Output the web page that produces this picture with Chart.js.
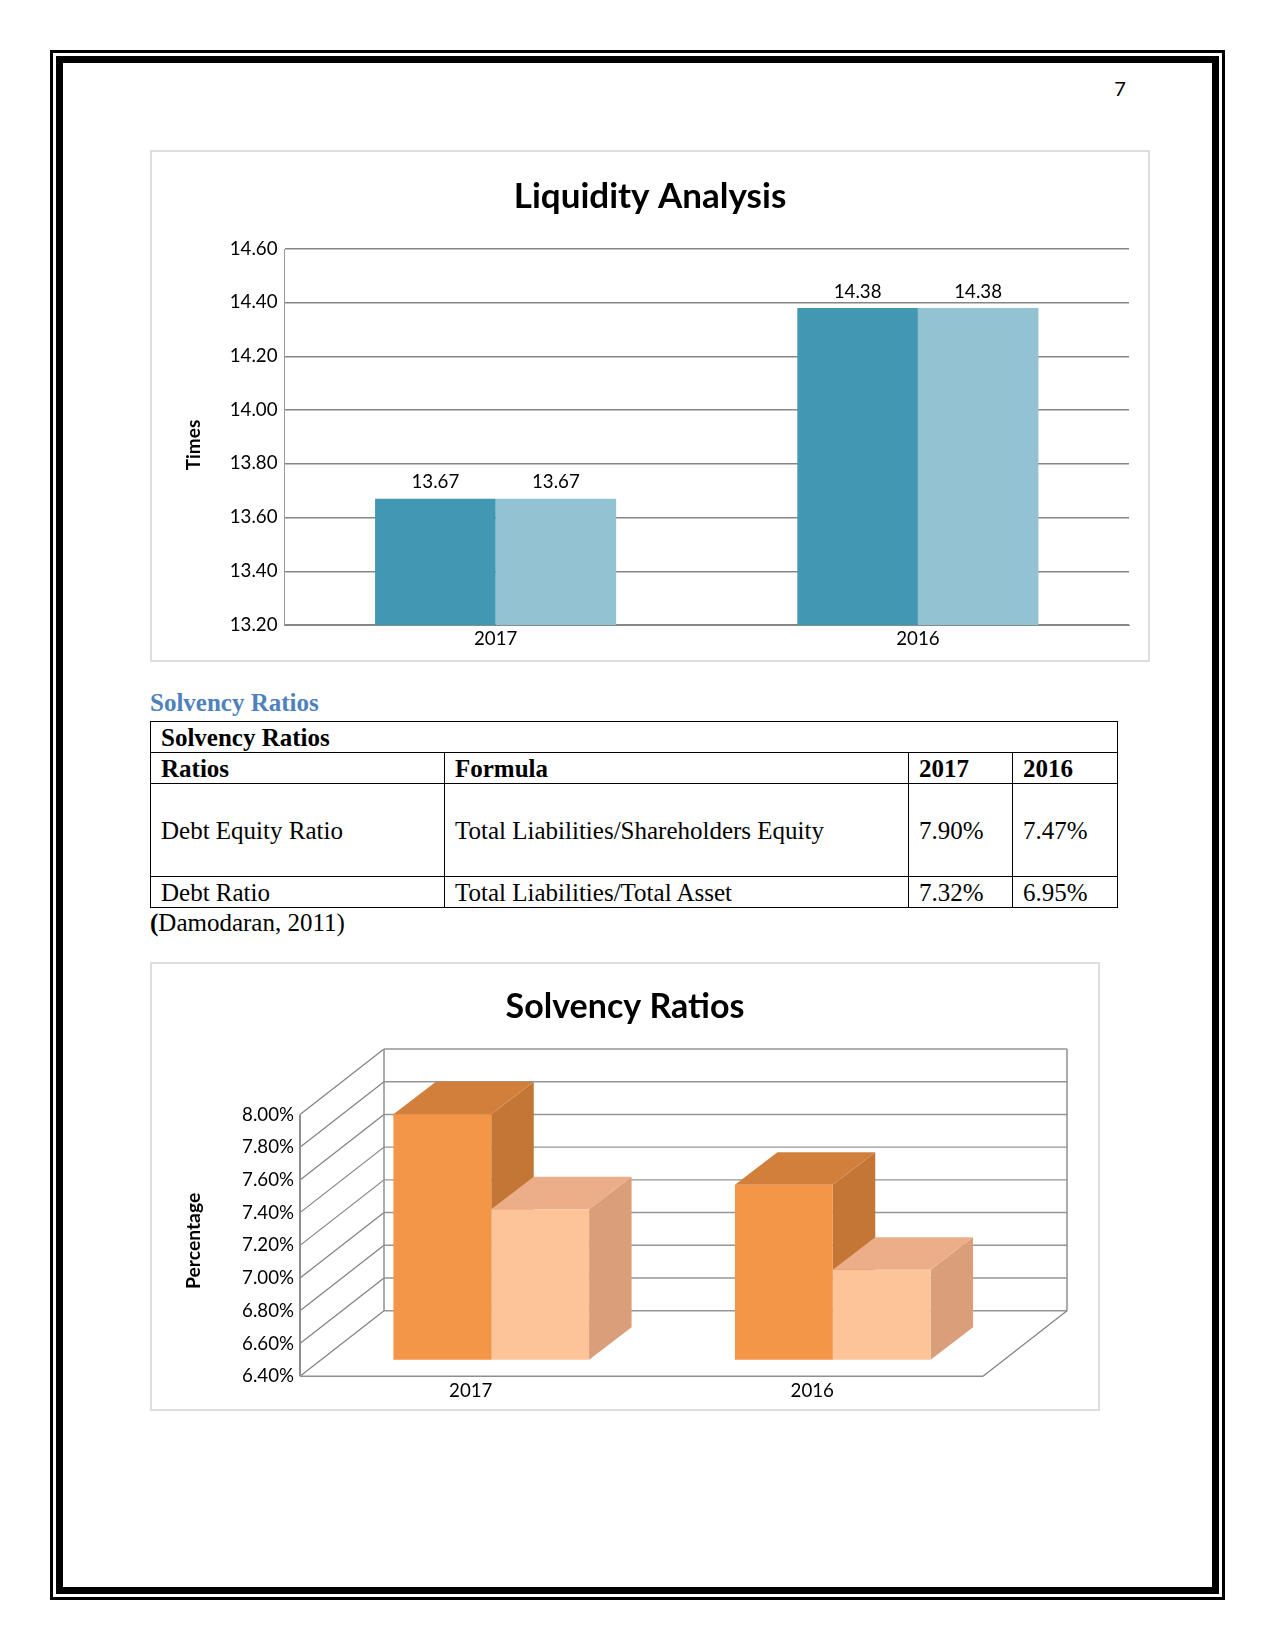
<!DOCTYPE html>
<html lang="en">
<head>
<meta charset="utf-8">
<title>Liquidity Analysis and Solvency Ratios</title>
<script src="https://cdn.jsdelivr.net/npm/chart.js@4"></script>
<style>
  html, body { margin: 0; padding: 0; background: #fff; }
  body { position: relative; width: 1275px; height: 1650px; overflow: hidden; font-family: "Liberation Serif", serif; color: #000; font-kerning: none; }
  .abs { position: absolute; box-sizing: border-box; }
  .frame-outer { left: 50px; top: 50px; width: 1175px; height: 1550px; border: 3px solid #000; }
  .frame-inner { left: 56px; top: 56px; width: 1163px; height: 1538px; border: 7px solid #000; }
  .page-no { left: 1100px; top: 75px; width: 40px; text-align: center; font: 20px/26px Lato, sans-serif; }
  .card { border: 2px solid #dedede; background: #fff; }
  #card1 { left: 150px; top: 150px; width: 1000px; height: 512px; }
  #card2 { left: 150px; top: 962px; width: 950px; height: 449px; }
  .canvas-box { position: absolute; }
  #box1 { left: 150px; top: 150px; width: 1000px; height: 512px; }
  #box2 { left: 150px; top: 963px; width: 950px; height: 448px; }
  .heading { left: 150px; top: 688px; font: bold 25px/30px "Liberation Serif", serif; color: #4f81bd; white-space: nowrap; }
  .source { left: 150px; top: 908px; font: 25px/30px "Liberation Serif", serif; white-space: nowrap; }
  table { position: absolute; left: 150px; top: 721px; width: 967px; table-layout: fixed; border-collapse: collapse; font: 25px/28px "Liberation Serif", serif; }
  td { border: 1px solid #000; padding: 2px 0 0 10px; white-space: nowrap; vertical-align: middle; overflow: hidden; }
  tr.r { height: 31px; }
  tr.tall { height: 93px; }
</style>
</head>
<body>
<div class="abs frame-outer"></div>
<div class="abs frame-inner"></div>
<div class="abs page-no">7</div>

<div class="abs card" id="card1"></div>
<div class="canvas-box" id="box1"><canvas id="liquidity"></canvas></div>

<div class="abs heading">Solvency Ratios</div>
<table id="solvency">
  <colgroup><col style="width:294px"><col style="width:464px"><col style="width:104px"><col style="width:105px"></colgroup>
  <tbody></tbody>
</table>
<div class="abs source"><b>(</b>Damodaran, 2011)</div>

<div class="abs card" id="card2"></div>
<div class="canvas-box" id="box2"><canvas id="solvencyChart"></canvas></div>

<script>
// ---------- data ----------
const categories = ['2017', '2016'];
const liquidityTitle = 'Liquidity Analysis';
const liquiditySeriesA = [13.67, 14.38];
const liquiditySeriesB = [13.67, 14.38];
const liquidityMin = 13.2, liquidityMax = 14.6, liquidityStep = 0.2;

const solvencyTitle = 'Solvency Ratios';
const debtEquityRatio = [7.90, 7.47];
const debtRatio = [7.32, 6.95];
const solvencyMin = 6.4, solvencyMax = 8.0, solvencyStep = 0.2;

const tableHeader = ['Ratios', 'Formula', '2017', '2016'];
const tableRowDebtEquity = ['Debt Equity Ratio', 'Total Liabilities/Shareholders Equity', '7.90%', '7.47%'];
const tableRowDebt = ['Debt Ratio', 'Total Liabilities/Total Asset', '7.32%', '6.95%'];

// ---------- table ----------
const tbody = document.querySelector('#solvency tbody');
function addRow(cells, cls, bold) {
  const tr = document.createElement('tr');
  tr.className = cls;
  cells.forEach(c => {
    const td = document.createElement('td');
    td.textContent = c;
    if (bold) td.style.fontWeight = 'bold';
    if (cells.length === 1) td.colSpan = 4;
    tr.appendChild(td);
  });
  tbody.appendChild(tr);
}
addRow(['Solvency Ratios'], 'r', true);
addRow(tableHeader, 'r', true);
addRow(tableRowDebtEquity, 'tall', false);
addRow(tableRowDebt, 'r', false);

// ---------- shared ----------
const FONT = 'Lato, sans-serif';
const TICK_SIZE = 18.7;
Chart.defaults.font.family = FONT;
Chart.defaults.color = '#000';
Chart.defaults.animation = false;

function sizeCanvas(id, w, h) {
  const c = document.getElementById(id);
  c.width = w; c.height = h;
  c.style.width = w + 'px'; c.style.height = h + 'px';
  return c;
}

// Centres the chart title on the whole card and nudges the library's own y-axis title along the axis.
const placeTitles = {
  id: 'placeTitles',
  afterLayout(chart) {
    chart.titleBlock.left = 0;
    chart.titleBlock.right = chart.width;
  },
  beforeDraw(chart, args, opts) {
    const s = chart.scales.y;
    if (s.__shifted) return;
    s.__shifted = true;
    const orig = s.drawTitle;
    s.drawTitle = function () {
      const ctx = this.ctx;
      ctx.save();
      ctx.translate(0, opts.dy || 0);
      orig.call(this);
      ctx.restore();
    };
  }
};

// Value labels above the first chart's bars.
const barValueLabels = {
  id: 'barValueLabels',
  afterDatasetsDraw(chart, args, opts) {
    const ctx = chart.ctx;
    ctx.save();
    ctx.font = TICK_SIZE + 'px ' + FONT;
    ctx.fillStyle = '#000';
    ctx.textAlign = 'center';
    ctx.textBaseline = 'middle';
    chart.data.datasets.forEach((ds, i) => {
      chart.getDatasetMeta(i).data.forEach((bar, j) => {
        ctx.fillText(ds.data[j].toFixed(2), bar.x, bar.y - opts.gap);
      });
    });
    ctx.restore();
  }
};

// ---------- chart 1 ----------
new Chart(sizeCanvas('liquidity', 1000, 512), {
  type: 'bar',
  plugins: [placeTitles, barValueLabels],
  data: {
    labels: categories,
    datasets: [
      { label: 'Series 1', data: liquiditySeriesA, backgroundColor: '#4298b2' },
      { label: 'Series 2', data: liquiditySeriesB, backgroundColor: '#93c3d3' }
    ]
  },
  options: {
    responsive: false,
    layout: { padding: { left: 0, right: 21, top: 0, bottom: 0 } },
    datasets: { bar: { categoryPercentage: 0.571, barPercentage: 1 } },
    plugins: {
      legend: { display: false },
      tooltip: { enabled: false },
      title: {
        display: true, text: liquidityTitle, color: '#000',
        font: { size: 35, weight: 'bold', family: FONT, lineHeight: 1.2 },
        padding: { top: 25.5, bottom: 31.5 }
      },
      placeTitles: { dy: 8 },
      barValueLabels: { gap: 16.5 }
    },
    scales: {
      x: {
        grid: { display: false, drawTicks: false },
        border: { color: '#8a8a8a', width: 1 },
        ticks: { font: { size: TICK_SIZE }, padding: 3, maxRotation: 0, autoSkip: false, color: '#000' },
        afterFit(s) { s.height = 37; }
      },
      y: {
        min: liquidityMin, max: liquidityMax,
        grid: { color: '#868686', lineWidth: 1.5, drawTicks: false },
        border: { color: '#9a9a9a', width: 1 },
        ticks: {
          stepSize: liquidityStep, font: { size: TICK_SIZE }, padding: 7, labelOffset: -0.5, color: '#000',
          callback: v => Number(v).toFixed(2)
        },
        title: {
          display: true, text: 'Times', color: '#000',
          font: { size: 19, weight: 'bold', family: FONT },
          padding: { top: 32, bottom: 0 }
        },
        afterFit(s) { s.width = 134.5; }
      }
    }
  }
});

// ---------- chart 2 ----------
// Pseudo-3D: the library draws each front face; this plugin adds the
// walls, floor and the top/side faces, all read from scales and bar elements.
const FRONT = { x: -20.5, y: 16.5 };   // from bar plane to front edge of floor
const BACK = { x: 63.5, y: -49 };      // from bar plane to back wall
const BAR_DEPTH = { x: 42.5, y: -32.5 };
const faceColours = [
  { top: '#d27f3c', side: '#c37636' },
  { top: '#ecae88', side: '#da9e7b' }
];
function poly(ctx, pts, fill) {
  ctx.beginPath();
  pts.forEach((p, i) => (i ? ctx.lineTo(p[0], p[1]) : ctx.moveTo(p[0], p[1])));
  ctx.closePath();
  ctx.fillStyle = fill;
  ctx.fill();
}
function seg(ctx, x1, y1, x2, y2, w, col) {
  ctx.beginPath();
  ctx.moveTo(x1, y1);
  ctx.lineTo(x2, y2);
  ctx.lineWidth = w;
  ctx.strokeStyle = col;
  ctx.stroke();
}
const box3d = {
  id: 'box3d',
  beforeDatasetsDraw(chart) {
    const ctx = chart.ctx;
    const { x: xs, y: ys } = chart.scales;
    const L = xs.left, R = xs.right;
    const fl = L + FRONT.x, fr = R + FRONT.x, bl = L + BACK.x, br = R + BACK.x;
    const col = '#969696';
    ctx.save();
    ys.ticks.forEach(t => {
      const p = ys.getPixelForValue(t.value);
      seg(ctx, fl, p + FRONT.y, bl, p + BACK.y, 1.2, '#808080');
      seg(ctx, bl, p + BACK.y, br, p + BACK.y, 1.4, col);
    });
    const top = ys.getPixelForValue(ys.max), bot = ys.getPixelForValue(ys.min);
    seg(ctx, fl, top + FRONT.y, fl, bot + FRONT.y, 2, '#8f8f8f');
    seg(ctx, bl, top + BACK.y, bl, bot + BACK.y, 1.5, '#8f8f8f');
    seg(ctx, br, top + BACK.y, br, bot + BACK.y, 1.5, '#8f8f8f');
    seg(ctx, fl, bot + FRONT.y, fr, bot + FRONT.y, 1.6, '#8f8f8f');
    seg(ctx, fr, bot + FRONT.y, br, bot + BACK.y, 1.2, '#808080');
    chart.data.datasets.forEach((ds, i) => {
      chart.getDatasetMeta(i).data.forEach(bar => {
        const x1 = bar.x - bar.width / 2, x2 = bar.x + bar.width / 2;
        const yT = bar.y, yB = bot;
        const dx = BAR_DEPTH.x, dy = BAR_DEPTH.y;
        poly(ctx, [[x2, yT], [x2 + dx, yT + dy], [x2 + dx, yB + dy], [x2, yB]], faceColours[i].side);
        poly(ctx, [[x1, yT], [x1 + dx, yT + dy], [x2 + dx, yT + dy], [x2, yT]], faceColours[i].top);
      });
    });
    ctx.restore();
  }
};

new Chart(sizeCanvas('solvencyChart', 950, 448), {
  type: 'bar',
  plugins: [placeTitles, box3d],
  data: {
    labels: categories,
    datasets: [
      { label: 'Debt Equity Ratio', data: debtEquityRatio, backgroundColor: '#f39647' },
      { label: 'Debt Ratio', data: debtRatio, backgroundColor: '#fdc49a' }
    ]
  },
  options: {
    responsive: false,
    layout: { padding: { left: 0, right: 96.5, top: 0, bottom: 0 } },
    datasets: { bar: { categoryPercentage: 0.573, barPercentage: 1 } },
    plugins: {
      legend: { display: false },
      tooltip: { enabled: false },
      title: {
        display: true, text: solvencyTitle, color: '#000',
        font: { size: 34, weight: 'bold', family: FONT, lineHeight: 1.2 },
        padding: { top: 24.1, bottom: 70.1 }
      },
      placeTitles: { dy: 12 }
    },
    scales: {
      x: {
        grid: { display: false, drawTicks: false },
        border: { display: false },
        ticks: { font: { size: TICK_SIZE }, padding: 20, labelOffset: FRONT.x, maxRotation: 0, autoSkip: false, color: '#000' },
        afterFit(s) { s.height = 51.3; }
      },
      y: {
        min: solvencyMin, max: solvencyMax,
        grid: { display: false, drawTicks: false },
        border: { display: false },
        ticks: {
          stepSize: solvencyStep, font: { size: TICK_SIZE }, padding: 26.5, labelOffset: FRONT.y, color: '#000',
          callback: v => Number(v).toFixed(2) + '%'
        },
        title: {
          display: true, text: 'Percentage', color: '#000',
          font: { size: 19.3, weight: 'bold', family: FONT },
          padding: { top: 32.4, bottom: 0 }
        },
        afterFit(s) { s.width = 170.5; }
      }
    }
  }
});
</script>
</body>
</html>
